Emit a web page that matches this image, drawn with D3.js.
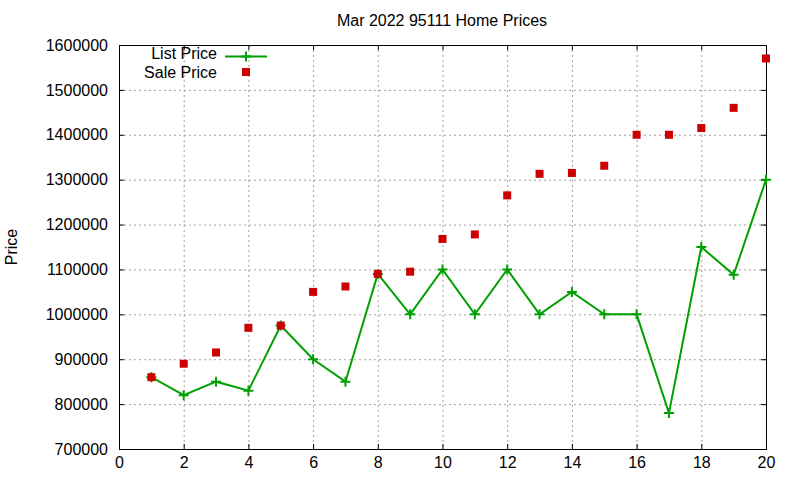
<!DOCTYPE html>
<html>
<head>
<meta charset="utf-8">
<script src="https://cdn.jsdelivr.net/npm/d3@7"></script>
<style>
  body { margin: 0; background: #fff; }
  text { font-family: "Liberation Sans", Arial, sans-serif; }
</style>
</head>
<body>
<div id="container"></div>
<script>
// data
var months = [1, 2, 3, 4, 5, 6, 7, 8, 9, 10, 11, 12, 13, 14, 15, 16, 17, 18, 19, 20];
var listPrice = [860000, 820000, 850000, 830000, 975000, 900000, 850000, 1090000, 1000000, 1100000,
                 1000000, 1100000, 1000000, 1050000, 1000000, 1000000, 780000, 1150000, 1088000, 1300000];
var salePrice = [860000, 890000, 915000, 970000, 975000, 1050000, 1062000, 1090000, 1095000, 1168000,
                 1178000, 1265000, 1313000, 1315000, 1331000, 1400000, 1400000, 1415000, 1460000, 1570000];
var xTicks = [0, 2, 4, 6, 8, 10, 12, 14, 16, 18, 20];
var yTicks = [700000, 800000, 900000, 1000000, 1100000, 1200000, 1300000, 1400000, 1500000, 1600000];

var fontSize = 16;
var margin = {top: 45, right: 34, bottom: 31, left: 119},
    width = 800 - margin.left - margin.right,
    height = 480 - margin.top - margin.bottom;

var svg = d3.select("#container")
  .append("svg")
    .attr("width", 800)
    .attr("height", 480);

var g = svg.append("g")
    .attr("transform", "translate(" + margin.left + "," + margin.top + ")");

var x = d3.scaleLinear().domain([0, 20]).range([0, width]);
var y = d3.scaleLinear().domain([700000, 1600000]).range([height, 0]);

// grid
g.append("g").selectAll("line").data(xTicks.slice(1, -1)).join("line")
  .attr("x1", d => x(d) + 0.5).attr("x2", d => x(d) + 0.5)
  .attr("y1", 0).attr("y2", height)
  .attr("stroke", "#a0a0a0").attr("stroke-dasharray", "2,3");
g.append("g").selectAll("line").data(yTicks.slice(1, -1)).join("line")
  .attr("y1", d => y(d) + 0.5).attr("y2", d => y(d) + 0.5)
  .attr("x1", 0).attr("x2", width)
  .attr("stroke", "#a0a0a0").attr("stroke-dasharray", "2,3");

// axes, gnuplot style ticks inward on all sides
function styleAxis(sel) {
  sel.select(".domain").remove();
  sel.selectAll("line").attr("stroke", "#000");
  sel.selectAll("text").attr("font-size", fontSize).attr("fill", "#000")
    .style("font-family", "'Liberation Sans', Arial, sans-serif");
}
g.append("g").attr("transform", "translate(0," + height + ")")
  .call(d3.axisBottom(x).tickValues(xTicks).tickSize(-5).tickPadding(8).tickFormat(d3.format("d")))
  .call(styleAxis);
g.append("g")
  .call(d3.axisLeft(y).tickValues(yTicks).tickSize(-5).tickPadding(11).tickFormat(d3.format("d")))
  .call(styleAxis);
g.append("g")
  .call(d3.axisTop(x).tickValues(xTicks).tickSize(-5).tickFormat(""))
  .call(styleAxis);
g.append("g").attr("transform", "translate(" + width + ",0)")
  .call(d3.axisRight(y).tickValues(yTicks).tickSize(-5).tickFormat(""))
  .call(styleAxis);

g.append("rect")
  .attr("x", 0.5).attr("y", 0.5).attr("width", width).attr("height", height)
  .attr("fill", "none").attr("stroke", "#000");

// list price line
var listData = months.map((m, i) => ({m: m, v: listPrice[i]}));
g.append("path")
  .datum(listData)
  .attr("fill", "none")
  .attr("stroke", "#00a000")
  .attr("stroke-width", 2)
  .attr("d", d3.line().x(d => x(d.m)).y(d => y(d.v)));

function plus(sel, size) {
  sel.append("path")
    .attr("d", "M" + (-size) + ",0H" + size + "M0," + (-size) + "V" + size)
    .attr("stroke", "#00a000").attr("stroke-width", 2).attr("fill", "none");
}
g.append("g").selectAll("g").data(listData).join("g")
  .attr("transform", d => "translate(" + x(d.m) + "," + y(d.v) + ")")
  .each(function() { plus(d3.select(this), 5); });

// sale price points
g.append("g").selectAll("rect").data(months).join("rect")
  .attr("x", (d, i) => x(d) - 4)
  .attr("y", (d, i) => y(salePrice[i]) - 4)
  .attr("width", 8).attr("height", 8)
  .attr("fill", "#cc0000");

// legend
var leg = svg.append("g");
leg.append("text").attr("x", 217).attr("y", 59).attr("text-anchor", "end")
  .attr("font-size", fontSize).text("List Price");
leg.append("line").attr("x1", 225).attr("x2", 267).attr("y1", 56.5).attr("y2", 56.5)
  .attr("stroke", "#00a000").attr("stroke-width", 2);
leg.append("g").attr("transform", "translate(246,56.5)").call(s => plus(s, 5));
leg.append("text").attr("x", 217).attr("y", 78).attr("text-anchor", "end")
  .attr("font-size", fontSize).text("Sale Price");
leg.append("rect").attr("x", 242).attr("y", 68).attr("width", 8).attr("height", 8)
  .attr("fill", "#cc0000");

// title and y label
svg.append("text").attr("x", 442).attr("y", 26).attr("text-anchor", "middle")
  .attr("font-size", fontSize).text("Mar 2022 95111 Home Prices");
svg.append("text").attr("transform", "translate(17,247) rotate(-90)")
  .attr("text-anchor", "middle").attr("font-size", fontSize).text("Price");
</script>
</body>
</html>
